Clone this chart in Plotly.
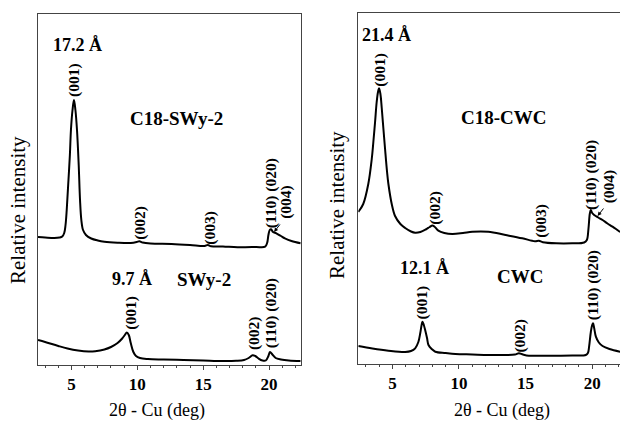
import plotly.graph_objects as go

# ---------------- data (2theta in deg, relative intensity in arbitrary units) -------------
c18swy_x = [2.46, 3.0, 3.7, 4.1, 4.3, 4.45, 4.55, 4.64, 4.75, 4.88, 4.96, 5.08, 5.19, 5.30,
            5.42, 5.55, 5.65, 5.75, 5.88, 6.1, 6.5, 7.0, 7.5, 8.5, 9.5, 9.95, 10.15, 10.4,
            11.0, 12.6, 14.0, 15.1, 15.35, 15.6, 16.5, 17.6, 19.0, 19.7, 19.85, 19.95,
            20.05, 20.15, 20.3, 20.55, 20.9, 21.2, 21.7, 22.4]
c18swy_y = [128, 127.5, 127, 127.5, 128.5, 132, 140, 155, 180, 210, 235, 255, 265, 255,
            235, 200, 165, 145, 135, 130, 126.5, 124.5, 123.3, 122.3, 122, 123, 123.8, 122.5,
            121.5, 121, 120, 119, 120, 118.8, 118.5, 117.7, 118, 118.3, 122, 130,
            135, 135.7, 133, 131.7, 129, 126.7, 124, 121.7]

swy_x = [2.46, 3.0, 4.0, 4.7, 5.5, 6.3, 6.8, 7.5, 8.0, 8.5, 8.85, 9.05, 9.2, 9.35, 9.5,
         9.7, 9.9, 10.2, 10.8, 12.0, 13.5, 15.0, 16.5, 17.5, 18.1, 18.45, 18.75, 18.95,
         19.2, 19.5, 19.75, 19.95, 20.07, 20.25, 20.5, 20.9, 21.5, 22.4]
swy_y = [25, 23, 19, 16.5, 14.5, 13.5, 13.8, 15.5, 18, 22, 26.5, 30, 32.5, 30, 22,
         13, 9, 7, 6, 5.5, 5, 4.5, 4, 4.2, 5, 7, 9.7, 9,
         6.5, 4.5, 4.5, 9, 13, 10.5, 7, 5.5, 4.5, 4]

c18cwc_x = [2.44, 2.81, 3.19, 3.45, 3.57, 3.7, 3.82, 3.92, 4.0, 4.1, 4.2, 4.32, 4.45, 4.6,
            4.7, 4.95, 5.2, 5.6, 5.96, 6.4, 6.71, 7.1, 7.5, 7.8, 8.0, 8.15, 8.45, 8.9, 9.5,
            10.3, 11.0, 12.2, 13.5, 14.75, 15.7, 16.0, 16.3, 17.3, 18.5, 19.4, 19.6, 19.72,
            19.82, 19.9, 20.0, 20.15, 20.45, 20.78, 21.15, 21.53, 22.1]
c18cwc_y = [152, 160, 180, 205, 222, 242, 262, 272, 275.7, 270, 256, 236, 215, 192,
            180, 160, 148, 140, 136, 132.5, 131.3, 132, 134.5, 137, 138.5, 137.5, 133.3, 131, 130,
            131, 132.3, 132.3, 129, 125.7, 122.8, 123.2, 121.8, 120.7, 120.7, 121.5, 124, 135,
            150, 154, 151, 149, 146.5, 144, 140.5, 137.3, 132]

cwc_x = [2.44, 3.5, 4.7, 5.96, 6.4, 6.71, 6.95, 7.09, 7.18, 7.26, 7.36, 7.46, 7.6, 7.71,
         7.95, 8.22, 9.0, 9.73, 11.0, 12.23, 13.5, 14.2, 14.5, 14.8, 15.25, 16.5, 17.26,
         18.5, 19.52, 19.68, 19.77, 19.9, 20.0, 20.07, 20.15, 20.28, 20.5, 20.78, 21.3, 22.1]
cwc_y = [18, 15.5, 13.3, 12, 13, 15.7, 22, 30.7, 38, 42.3, 39, 34, 26, 19,
         15, 12.3, 11, 10, 9.5, 9, 9, 9.5, 10.7, 9.5, 8.3, 8.3, 8.3,
         8.5, 9, 11, 17.3, 32, 39, 40.7, 36, 27.3, 21.5, 18, 15, 12.3]

tick_vals = [5, 10, 15, 20]
tick_text = ["5", "10", "15", "20"]
x_title = "2θ - Cu (deg)"
y_title = "Relative intensity"

# ---------------- figure ----------------
W, H = 620, 423
SERIF = "Liberation Serif, Times New Roman, serif"
LINE = dict(color="black", width=2)

fig = go.Figure()
fig.add_trace(go.Scatter(x=c18swy_x, y=c18swy_y, mode="lines", line=LINE, xaxis="x", yaxis="y",
                         line_shape="spline", hoverinfo="skip"))
fig.add_trace(go.Scatter(x=swy_x, y=swy_y, mode="lines", line=LINE, xaxis="x", yaxis="y",
                         line_shape="spline", hoverinfo="skip"))
fig.add_trace(go.Scatter(x=c18cwc_x, y=c18cwc_y, mode="lines", line=LINE, xaxis="x2", yaxis="y2",
                         line_shape="spline", hoverinfo="skip"))
fig.add_trace(go.Scatter(x=cwc_x, y=cwc_y, mode="lines", line=LINE, xaxis="x2", yaxis="y2",
                         line_shape="spline", hoverinfo="skip"))

axis_common = dict(
    showgrid=False, zeroline=False, showline=True, linecolor="#444", linewidth=1,
    ticks="outside", ticklen=4, tickwidth=1, tickcolor="#444",
    tickvals=tick_vals, ticktext=tick_text,
    tickfont=dict(family=SERIF, size=17, color="black", weight="bold"),
    minor=dict(dtick=1, ticks="outside", ticklen=2, tickcolor="#444", tickwidth=1),
)
yaxis_common = dict(showgrid=False, zeroline=False, showline=True, linecolor="#444", linewidth=1,
                    showticklabels=False, ticks="", range=[0, 351], fixedrange=True)

fig.update_layout(
    width=W, height=H, margin=dict(l=0, r=0, t=0, b=0),
    paper_bgcolor="white", plot_bgcolor="white", showlegend=False,
    xaxis=dict(domain=[38 / W, 300.7 / W], range=[2.46, 22.4], mirror=True, anchor="y", **axis_common),
    yaxis=dict(domain=[(H - 365) / H, (H - 14) / H], mirror=True, anchor="x", **yaxis_common),
    xaxis2=dict(domain=[358.3 / W, 1.0], range=[2.44, 22.09], mirror=True, anchor="y2", **axis_common),
    yaxis2=dict(domain=[(H - 364) / H, (H - 13) / H], mirror=False, anchor="x2", **yaxis_common),
)

ann = []
def txt(x, y, s, ref, size=15, angle=0, bold=True):
    xr, yr = ref
    ann.append(dict(x=x, y=y, xref=xr, yref=yr, text=s, showarrow=False, textangle=angle,
                    xanchor="center", yanchor="middle",
                    font=dict(family=SERIF, size=size, color="black",
                              weight="bold" if bold else "normal")))

L = ("x", "y")
R = ("x2", "y2")
P = 15.5
# left panel
txt(5.42, 320, "17.2 Å", L, 18)
txt(5.19, 285, "(001)", L, P, -90)
txt(12.97, 246.5, "C18-SWy-2", L, 19)
txt(10.18, 142, "(002)", L, P, -90)
txt(15.49, 137, "(003)", L, P, -90)
txt(20.17, 172, "(110) (020)", L, P, -90)
txt(21.23, 163.5, "(004)", L, P, -90)
txt(9.59, 86, "9.7 Å", L, 18)
txt(15.06, 86, "SWy-2", L, 19)
txt(9.5, 52, "(001)", L, P, -90)
txt(18.86, 32, "(002)", L, P, -90)
txt(20.17, 52, "(110) (020)", L, P, -90)
# right panel
txt(4.56, 329, "21.4 Å", R, 18)
txt(4.05, 294, "(001)", R, P, -90)
txt(13.35, 246.5, "C18-CWC", R, 19)
txt(8.14, 156.5, "(002)", R, P, -90)
txt(16.14, 143, "(003)", R, P, -90)
txt(19.91, 189, "(110) (020)", R, P, -90)
txt(21.29, 178, "(004)", R, P, -90)
txt(7.39, 96, "12.1 Å", R, 18)
txt(14.55, 87.3, "CWC", R, 19)
txt(7.22, 61.5, "(001)", R, P, -90)
txt(14.55, 28, "(002)", R, P, -90)
txt(20.08, 79, "(110) (020)", R, P, -90)

# arrows for (004)
ann.append(dict(x=20.38, y=133, xref="x", yref="y", ax=7, ay=-9, text="", showarrow=True,
                arrowhead=2, arrowsize=0.8, arrowwidth=1, arrowcolor="black"))
ann.append(dict(x=20.41, y=148, xref="x2", yref="y2", ax=7, ay=-9, text="", showarrow=True,
                arrowhead=2, arrowsize=0.8, arrowwidth=1, arrowcolor="black"))

# axis titles
for cx, cy in [(18, 210), (337, 205)]:
    ann.append(dict(x=cx / W, y=(H - cy) / H, xref="paper", yref="paper", text=y_title,
                    showarrow=False, textangle=-90, xanchor="center", yanchor="middle",
                    font=dict(family=SERIF, size=21, color="black")))
for cx in [157, 502]:
    ann.append(dict(x=cx / W, y=(H - 410) / H, xref="paper", yref="paper", text=x_title,
                    showarrow=False, xanchor="center", yanchor="middle",
                    font=dict(family=SERIF, size=18, color="black")))

fig.update_layout(annotations=ann)
fig.write_html("out.html")
